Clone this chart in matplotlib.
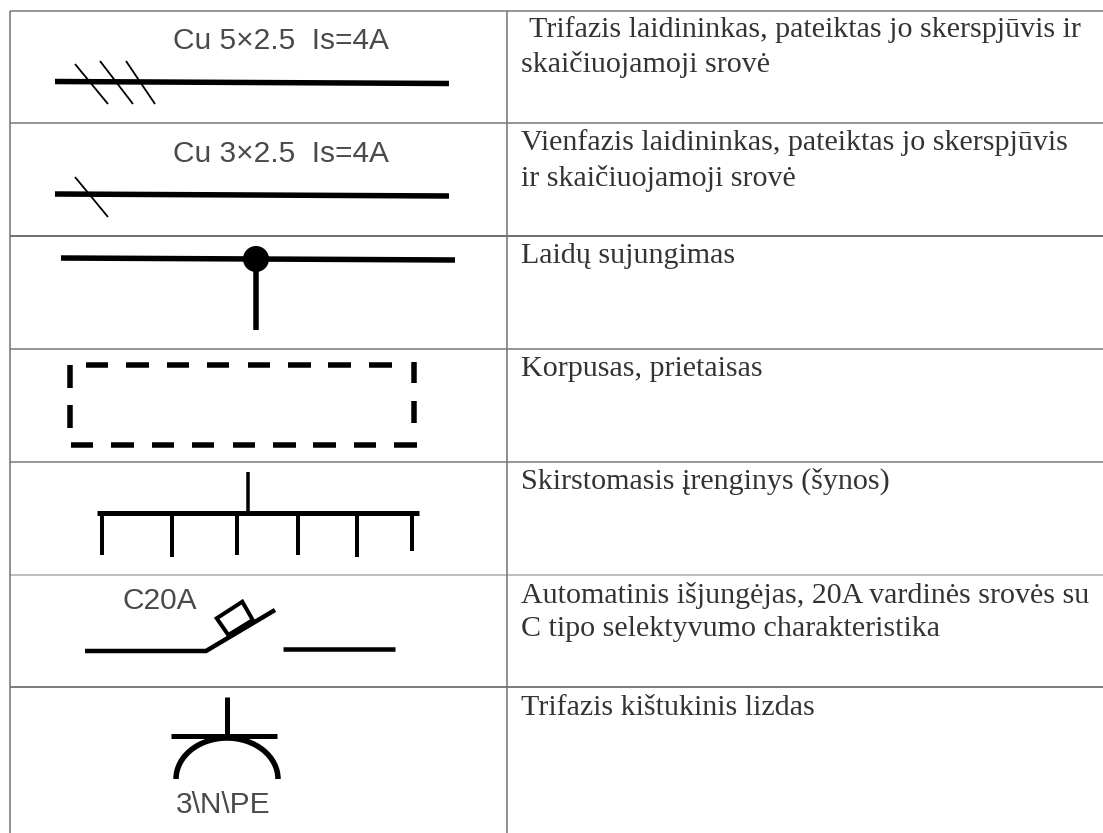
import matplotlib
matplotlib.use("Agg")
import matplotlib.pyplot as plt
from matplotlib.patches import Arc, Polygon, Circle

W, H = 1103, 833
PX = 0.72  # points per pixel at dpi 100

row_lines = [11, 123, 236, 349, 462, 575, 687]
column_lines = [9.5, 506.5]
line_colors = ["#777777", "#777777", "#444444", "#777777", "#777777", "#aaaaaa", "#555555"]

descriptions = [
    (529, 37, "Trifazis laidininkas, pateiktas jo skerspjūvis ir"),
    (521, 72, "skaičiuojamoji srovė"),
    (521, 150, "Vienfazis laidininkas, pateiktas jo skerspjūvis"),
    (521, 186, "ir skaičiuojamoji srovė"),
    (521, 263, "Laidų sujungimas"),
    (521, 376, "Korpusas, prietaisas"),
    (521, 489, "Skirstomasis įrenginys (šynos)"),
    (521, 603, "Automatinis išjungėjas, 20A vardinės srovės su"),
    (521, 636, "C tipo selektyvumo charakteristika"),
    (521, 715, "Trifazis kištukinis lizdas"),
]
symbol_labels = [
    (173, 48.5, "Cu 5×2.5  Is=4A"),
    (173, 161.5, "Cu 3×2.5  Is=4A"),
    (122, 609, "C20A"),
    (176, 813, "3\\N\\PE"),
]

thick_wires = [
    ((55, 449), (81.5, 83.5)),
    ((55, 449), (194, 196)),
    ((61, 455), (258, 260)),
    ((256, 256), (260, 330)),
]
thin_slashes = [
    ((75, 108), (64, 104)),
    ((100, 133), (61, 104)),
    ((126, 155), (61, 104)),
    ((75, 108), (177, 217)),
]
junction = (256, 259, 13)

dash_top_x = [(86, 108), (126, 149), (167, 189), (207, 229), (248, 270), (288, 311), (328, 351), (369, 392)]
dash_top_y = 364.7
dash_bottom_x = [(71, 93), (111, 134), (152, 174), (192, 214), (233, 255), (273, 296), (313, 336), (354, 376), (394, 417)]
dash_bottom_y = 444.7
dash_left_y = [(365, 388), (405, 428)]
dash_left_x = 70
dash_right_y = [(362, 383), (401, 423)]
dash_right_x = 413.5

bus_bar = ((97, 419), (513, 513))
bus_feed = ((248, 248), (472, 513))
bus_drop_x = [102, 172, 237, 298, 357, 412]
bus_drop_end = [555, 557, 555, 555, 557, 551]

breaker_in = ((85, 206, 275), (651, 651, 610))
breaker_out = ((283, 395), (649, 649))
breaker_box = [(216.7, 618.3), (242.3, 601.7), (252.7, 620), (228.3, 635)]

socket_stem = ((226.5, 226.5), (697, 737))
socket_bar = ((171, 277), (736, 736))
socket_arc_center = (227, 779)
socket_arc_size = (102, 82)

fig = plt.figure(figsize=(W / 100, H / 100), dpi=100, facecolor="white")
ax = fig.add_axes([0, 0, 1, 1])
ax.set_xlim(0, W)
ax.set_ylim(H, 0)
ax.axis("off")

for y, c in zip(row_lines, line_colors):
    ax.plot([column_lines[0], W], [y, y], color=c, lw=1.5 * PX, solid_capstyle="butt")
for x in column_lines:
    ax.plot([x, x], [row_lines[0], H], color="#777777", lw=1.6 * PX, solid_capstyle="butt")

for x, y, s in descriptions:
    ax.text(x, y, s, family="Liberation Serif", fontsize=21.6, color="#333333", ha="left", va="baseline")
for x, y, s in symbol_labels:
    ax.text(x, y, s, family="Liberation Sans", fontsize=21.5, color="#4a4a4a", ha="left", va="baseline")

k = dict(color="black", solid_capstyle="butt", solid_joinstyle="miter")
for xs, ys in thick_wires:
    ax.plot(xs, ys, lw=5.5 * PX, **k)
for xs, ys in thin_slashes:
    ax.plot(xs, ys, lw=1.8 * PX, **k)
ax.add_patch(Circle(junction[:2], junction[2], color="black", lw=0))

for a, b in dash_top_x:
    ax.plot((a, b), (dash_top_y, dash_top_y), lw=5.5 * PX, **k)
for a, b in dash_bottom_x:
    ax.plot((a, b), (dash_bottom_y, dash_bottom_y), lw=5.5 * PX, **k)
for a, b in dash_left_y:
    ax.plot((dash_left_x, dash_left_x), (a, b), lw=5.5 * PX, **k)
for a, b in dash_right_y:
    ax.plot((dash_right_x, dash_right_x), (a, b), lw=5.5 * PX, **k)

ax.plot(*bus_bar, lw=5 * PX, **k)
ax.plot(*bus_feed, lw=3.5 * PX, **k)
for x, e in zip(bus_drop_x, bus_drop_end):
    ax.plot((x, x), (513, e), lw=4 * PX, **k)

ax.plot(*breaker_in, lw=4.5 * PX, **k)
ax.plot(*breaker_out, lw=4.5 * PX, **k)
ax.add_patch(Polygon(breaker_box, closed=True, fill=False, ec="black", lw=4 * PX, joinstyle="miter"))

ax.plot(*socket_stem, lw=5 * PX, **k)
ax.plot(*socket_bar, lw=5 * PX, **k)
ax.add_patch(Arc(socket_arc_center, socket_arc_size[0], socket_arc_size[1], theta1=180, theta2=360, ec="black", lw=5.5 * PX))

fig.savefig("out.png", dpi=100, facecolor="white")
